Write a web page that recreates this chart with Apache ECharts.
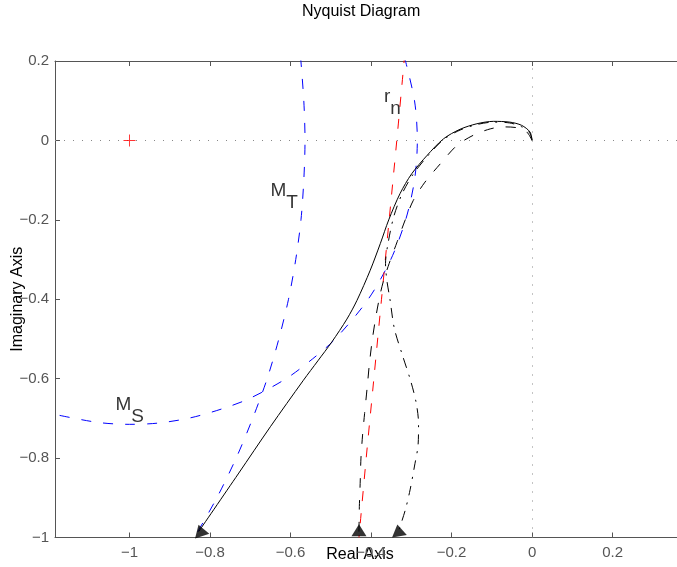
<!DOCTYPE html>
<html>
<head>
<meta charset="utf-8">
<script src="https://cdn.jsdelivr.net/npm/echarts@6/dist/echarts.min.js"></script>
<style>
html,body{margin:0;padding:0;background:#fff;}
#chart{width:677px;height:567px;}
</style>
</head>
<body>
<div id="chart"></div>
<script>
// ---- data ----
const xTicks = [-1, -0.8, -0.6, -0.4, -0.2, 0, 0.2];
const yTicks = [-1, -0.8, -0.6, -0.4, -0.2, 0, 0.2];

// solid Nyquist curve
const solidCurve = [
  [0,0],[-0.005,0.021],[-0.026,0.038],[-0.055,0.046],[-0.096,0.048],[-0.137,0.042],
  [-0.179,0.028],[-0.22,0.004],[-0.261,-0.038],[-0.299,-0.084],[-0.328,-0.134],
  [-0.356,-0.2],[-0.377,-0.26],[-0.402,-0.327],[-0.435,-0.403],[-0.46,-0.45],
  [-0.497,-0.507],[-0.532,-0.555],[-0.568,-0.604],[-0.65,-0.721],[-0.73,-0.84],
  [-0.828,-0.985]
];
// dashed Nyquist curve
const dashedCurve = [
  [0,0],[-0.013,0.021],[-0.038,0.032],[-0.071,0.034],[-0.104,0.029],[-0.146,0.013],
  [-0.187,-0.013],[-0.228,-0.059],[-0.266,-0.105],[-0.295,-0.151],[-0.315,-0.2],
  [-0.335,-0.255],[-0.355,-0.31],[-0.368,-0.35],[-0.377,-0.386],[-0.388,-0.444],
  [-0.397,-0.503],[-0.404,-0.562],[-0.409,-0.616],[-0.416,-0.688],[-0.421,-0.742],
  [-0.425,-0.8],[-0.427,-0.864],[-0.429,-0.922],[-0.43,-0.985]
];
// dash-dot Nyquist curve
const dashDotCurve = [
  [0,0],[-0.006,0.019],[-0.027,0.035],[-0.056,0.044],[-0.096,0.046],[-0.137,0.04],
  [-0.179,0.026],[-0.22,0.002],[-0.26,-0.04],[-0.296,-0.086],[-0.323,-0.135],
  [-0.343,-0.19],[-0.357,-0.255],[-0.364,-0.31],[-0.361,-0.35],[-0.353,-0.4],
  [-0.342,-0.474],[-0.322,-0.541],[-0.302,-0.604],[-0.288,-0.66],[-0.282,-0.713],
  [-0.283,-0.765],[-0.292,-0.82],[-0.303,-0.88],[-0.315,-0.931],[-0.332,-0.985]
];
// r_n line (red dashed)
const rnLine = [
  [-0.316,0.22],[-0.336,0],[-0.355,-0.2],[-0.374,-0.4],[-0.393,-0.6],[-0.412,-0.8],[-0.43,-1.0]
];
// M_S circle (blue dashed)
const msCircle = [
  [-0.317,0.21],[-0.292,0.1],[-0.285,0],[-0.292,-0.1],[-0.314,-0.2],[-0.351,-0.3],
  [-0.407,-0.4],[-0.489,-0.5],[-0.545,-0.55],[-0.611,-0.6],[-0.702,-0.65],[-0.77,-0.676],
  [-0.85,-0.699],[-0.93,-0.712],[-1,-0.715],[-1.08,-0.71],[-1.19,-0.689]
];
// M_T circle (blue dashed)
const mtCircle = [
  [-0.575,0.21],[-0.567,0.1],[-0.564,0],[-0.567,-0.1],[-0.574,-0.2],[-0.587,-0.3],
  [-0.605,-0.4],[-0.629,-0.5],[-0.658,-0.6],[-0.694,-0.7],[-0.735,-0.8],[-0.783,-0.9],
  [-0.839,-1.0],[-0.87,-1.05]
];
// direction arrows [x, y, rotation]
const arrowPts = [[-0.824,-0.982,18],[-0.43,-0.982,0],[-0.332,-0.982,10]];
// critical point
const criticalPt = [[-1,0]];
// text labels
const labelPts = [
  {name:'MT', value:[-0.65,-0.103], main:'M', sub:'T'},
  {name:'MS', value:[-1.035,-0.642], main:'M', sub:'S'},
  {name:'rn', value:[-0.368,0.133], main:'r', sub:'n'}
];

const FONT = "'Liberation Sans', Arial, Helvetica, sans-serif";
const AXC = '#555';
const fmt = v => {
  const a = Number(Math.abs(v).toFixed(2));
  return (v < -1e-9 ? '\u2212' : '') + String(a);
};

const chart = echarts.init(document.getElementById('chart'), null, {renderer:'canvas'});

const lineSeries = (data, color, type) => ({
  type:'line', data, showSymbol:false, smooth:0.3, clip:true, silent:true,
  lineStyle:{color, width:1, type}, z:3
});

const option = {
  animation:false,
  backgroundColor:'#fff',
  textStyle:{fontFamily:FONT},
  graphic:[{
    type:'text', left:302, top:4,
    style:{text:'Nyquist Diagram', fontSize:16, fill:'#000', fontFamily:FONT}
  }],
  grid:{left:55, right:0, top:61, bottom:29.5, containLabel:false, outerBoundsMode:'none'},
  xAxis:[{
    type:'value', min:-1.185, max:0.36, position:'bottom',
    name:'Real Axis', nameLocation:'middle', nameGap:9, nameMoveOverlap:false,
    nameTextStyle:{color:'#000', fontSize:16, fontFamily:FONT, padding:[0,12,0,0]},
    axisLine:{show:true, onZero:false, lineStyle:{color:AXC, width:1}},
    axisTick:{show:true, inside:true, length:5, customValues:xTicks, lineStyle:{color:AXC}},
    axisLabel:{show:true, customValues:xTicks, formatter:fmt, color:AXC, fontSize:15, margin:8, fontFamily:FONT},
    splitLine:{show:false}
  },{
    type:'value', min:-1.185, max:0.36, position:'top',
    axisLine:{show:true, onZero:false, lineStyle:{color:AXC, width:1}},
    axisTick:{show:true, inside:true, length:5, customValues:xTicks, lineStyle:{color:AXC}},
    axisLabel:{show:false},
    splitLine:{show:false}
  }],
  yAxis:[{
    type:'value', min:-1, max:0.2, interval:0.2, position:'left',
    name:'Imaginary Axis', nameLocation:'middle', nameGap:29, nameMoveOverlap:false,
    nameTextStyle:{color:'#000', fontSize:16, fontFamily:FONT},
    axisLine:{show:true, onZero:false, lineStyle:{color:AXC, width:1}},
    axisTick:{show:true, inside:true, length:5, lineStyle:{color:AXC}},
    axisLabel:{show:true, formatter:fmt, color:AXC, fontSize:15, margin:6, fontFamily:FONT},
    splitLine:{show:false}
  }],
  series:[
    {
      type:'line', data:[], silent:true,
      markLine:{
        silent:true, symbol:['none','none'], label:{show:false},
        lineStyle:{color:'#888', width:1, type:[1,8]},
        data:[{yAxis:0},{xAxis:0}]
      }
    },
    lineSeries(msCircle, '#0000ff', [10,12]),
    lineSeries(mtCircle, '#0000ff', [10,12]),
    lineSeries(rnLine, '#ff0000', [10,12]),
    lineSeries(dashDotCurve, '#000', [10,7,2,7]),
    lineSeries(dashedCurve, '#000', [10,12]),
    lineSeries(solidCurve, '#000', 'solid'),
    {
      type:'scatter', data:criticalPt, silent:true, z:5,
      symbol:'path://M0,4.6h10v0.8h-10z M4.6,0h0.8v10h-0.8z',
      symbolSize:12, itemStyle:{color:'#ff0000'}
    },
    {
      type:'scatter', silent:true, z:6,
      data:arrowPts.map(p => ({value:[p[0],p[1]], symbolRotate:p[2]})),
      symbol:'triangle', symbolSize:[15,12], itemStyle:{color:'#000'}
    },
    {
      type:'scatter', silent:true, z:7, symbolSize:0,
      data:labelPts.map(p => ({name:p.name, value:p.value, main:p.main, sub:p.sub})),
      label:{
        show:true, position:[0,0], align:'left', verticalAlign:'top',
        formatter: params => '{m|' + params.data.main + '}{s|' + params.data.sub + '}',
        rich:{
          m:{fontSize:19, lineHeight:19, color:'#000', fontFamily:FONT, verticalAlign:'top'},
          s:{fontSize:19, lineHeight:19, color:'#000', fontFamily:FONT, verticalAlign:'top', padding:[12,0,0,0]}
        }
      }
    }
  ]
};
chart.setOption(option);
</script>
</body>
</html>
